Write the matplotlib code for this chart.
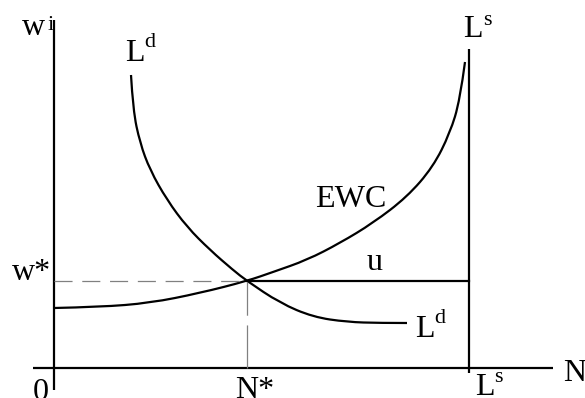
"""Labour market diagram: demand curve, efficiency wage curve and labour supply"""

import matplotlib
matplotlib.use('Agg')
import matplotlib.pyplot as plt
from matplotlib.path import Path
from matplotlib.patches import PathPatch

plt.rcParams['font.family'] = 'Liberation Serif'
plt.rcParams['lines.scale_dashes'] = False

# Equilibrium and labour force (picture units, origin at the axes corner)
nStar = 193  # N*
wStar = 87  # w*
laborForce = 415  # L^s

# Labour demand curve L^d
ldN = [77, 79, 86, 96, 113, 133, 156, 179, 193, 226, 259, 293, 326, 353]
ldW = [293, 258, 225, 198, 168, 141, 118, 98, 87, 65, 51, 46, 45, 45]

# Efficiency wage curve EWC
ewcN = [0, 46, 96, 146, 193, 219, 253, 286, 319, 353, 379, 396, 406, 411]
ewcW = [60, 61, 65, 75, 87, 96, 108, 125, 145, 171, 201, 235, 268, 306]

BLACK = 'black'
GREY = '#808080'
FS_BIG = 23  # main labels
FS_SUP = 16  # superscripts


def label(ax, x, y, s, size=FS_BIG):
    ax.text(x, y, s, fontsize=size, ha='left', va='baseline', clip_on=False)


def smooth_curve(ax, xs, ys):
    """Draw the read points as a smooth quadratic Bezier chain (points are controls)"""
    pts = list(zip(xs, ys))
    verts = [pts[0]]
    codes = [Path.MOVETO]
    for i in range(1, len(pts) - 1):
        nxt = pts[i + 1] if i == len(pts) - 2 else (
            (pts[i][0] + pts[i + 1][0]) / 2.0, (pts[i][1] + pts[i + 1][1]) / 2.0)
        verts += [pts[i], nxt]
        codes += [Path.CURVE3, Path.CURVE3]
    ax.add_patch(PathPatch(Path(verts, codes), fill=False, edgecolor=BLACK, lw=1.6))


fig = plt.figure(figsize=(5.85, 3.98), dpi=100)
ax = fig.add_axes([0, 0, 1, 1])
ax.set_xlim(-54, 531)
ax.set_ylim(-30, 368)
ax.axis('off')

# Axes
ax.plot([0, 0], [-22, 348], color=BLACK, lw=1.6, solid_capstyle='butt')
ax.plot([-21, 499], [0, 0], color=BLACK, lw=1.6, solid_capstyle='butt')
# Labour supply (vertical)
ax.plot([laborForce, laborForce], [-5, 319], color=BLACK, lw=1.6, solid_capstyle='butt')

# Dashed guides to the equilibrium
ax.plot([0, nStar], [wStar, wStar], color=GREY, lw=0.9, dashes=(13, 7))
ax.plot([nStar, nStar], [0, wStar], color=GREY, lw=0.9, dashes=(31, 7))

# Unemployment segment u
ax.plot([nStar, laborForce], [wStar, wStar], color=BLACK, lw=1.6)

# Curves
smooth_curve(ax, ldN, ldW)
smooth_curve(ax, ewcN, ewcW)

# Labels
label(ax, -32, 333, 'w')
label(ax, -6, 338, 'i', FS_SUP)
label(ax, 71, 307, 'L')
label(ax, 90, 321, 'd', FS_SUP)
label(ax, 409, 331, 'L')
label(ax, 429, 343, 's', FS_SUP)
label(ax, 261, 161, 'EWC')
label(ax, 313, 98, 'u')
label(ax, -42, 88, 'w*')
label(ax, 361, 31, 'L')
label(ax, 380, 45, 'd', FS_SUP)
label(ax, -21, -32, '0')
label(ax, 181, -30, 'N*')
label(ax, 421, -27, 'L')
label(ax, 440, -14, 's', FS_SUP)
label(ax, 509, -13, 'N')

fig.savefig('out.png', dpi=100)
